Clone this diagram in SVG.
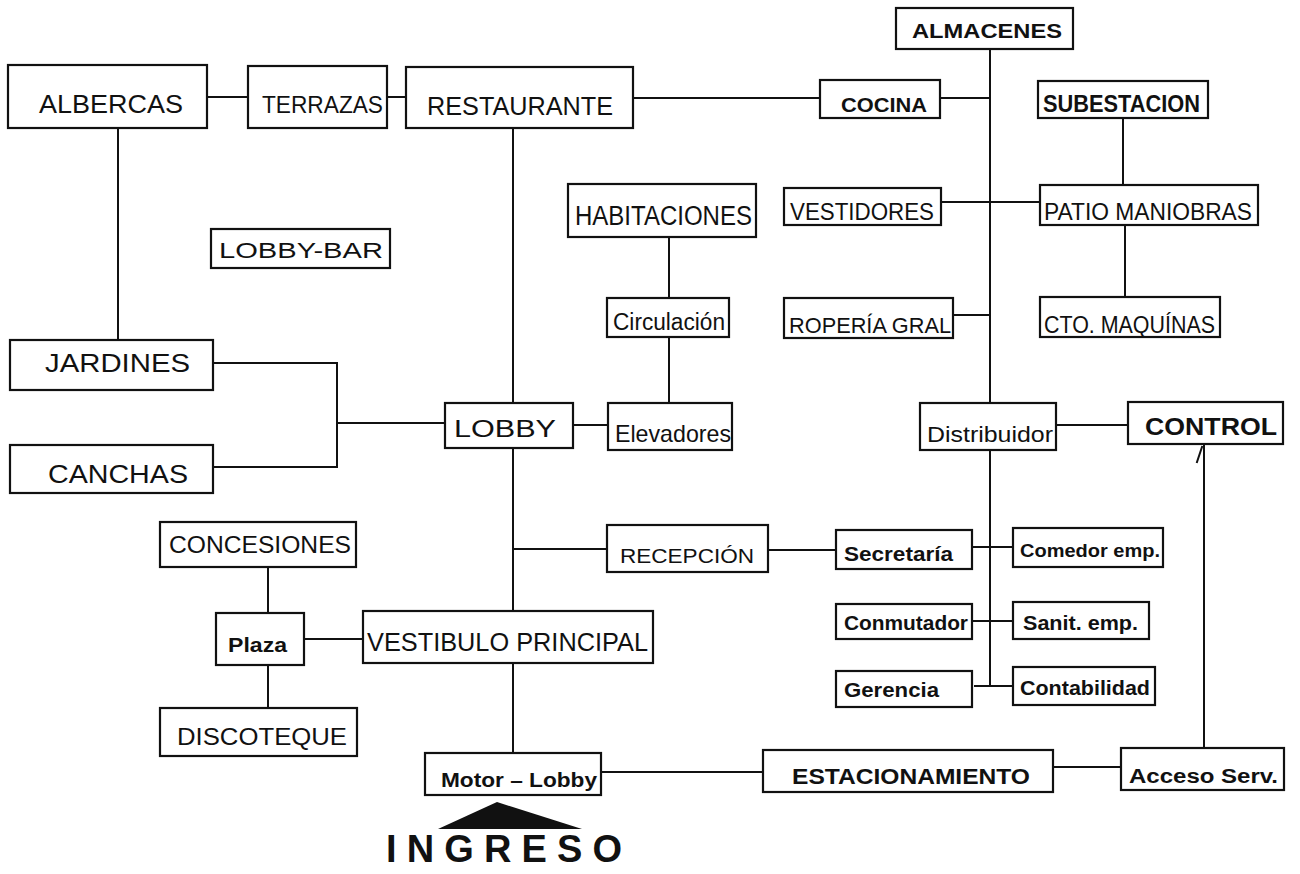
<svg xmlns="http://www.w3.org/2000/svg" width="1300" height="874" viewBox="0 0 1300 874">
<style>
.box{fill:#fff;stroke:#111;stroke-width:2.2}
.t{font-family:"Liberation Sans",Arial,sans-serif;fill:#111}
.b{font-weight:bold}
#connectors line{stroke:#111;stroke-width:2;stroke-linecap:square}
</style>
<rect width="1300" height="874" fill="#fff"/>
<g id="connectors">
<line x1="207" y1="97" x2="248" y2="97"/>
<line x1="387" y1="97" x2="406" y2="97"/>
<line x1="633" y1="98" x2="820" y2="98"/>
<line x1="940" y1="98" x2="990" y2="98"/>
<line x1="990" y1="49" x2="990" y2="403"/>
<line x1="1123" y1="118" x2="1123" y2="185"/>
<line x1="1125" y1="225" x2="1125" y2="297"/>
<line x1="941" y1="202" x2="1040" y2="202"/>
<line x1="953" y1="315" x2="990" y2="315"/>
<line x1="669" y1="237" x2="669" y2="298"/>
<line x1="669" y1="337" x2="669" y2="403"/>
<line x1="573" y1="425" x2="608" y2="425"/>
<line x1="513" y1="128" x2="513" y2="403"/>
<line x1="513" y1="448" x2="513" y2="611"/>
<line x1="513" y1="663" x2="513" y2="753"/>
<line x1="118" y1="128" x2="118" y2="340"/>
<line x1="213" y1="363" x2="337" y2="363"/>
<line x1="213" y1="467" x2="337" y2="467"/>
<line x1="337" y1="363" x2="337" y2="467"/>
<line x1="337" y1="423" x2="445" y2="423"/>
<line x1="513" y1="549" x2="607" y2="549"/>
<line x1="768" y1="550" x2="836" y2="550"/>
<line x1="972" y1="547" x2="1013" y2="547"/>
<line x1="990" y1="450" x2="990" y2="686"/>
<line x1="972" y1="621" x2="1013" y2="621"/>
<line x1="975" y1="686" x2="1013" y2="686"/>
<line x1="1056" y1="425" x2="1128" y2="425"/>
<line x1="1204" y1="444" x2="1204" y2="748"/>
<line x1="1197" y1="462" x2="1202" y2="447"/>
<line x1="304" y1="639" x2="363" y2="639"/>
<line x1="268" y1="567" x2="268" y2="613"/>
<line x1="268" y1="665" x2="268" y2="708"/>
<line x1="601" y1="772" x2="763" y2="772"/>
<line x1="1053" y1="767" x2="1121" y2="767"/>
</g>
<g id="albercas"><rect class="box" x="8" y="65" width="199" height="63"/><text class="t" x="39" y="113" font-size="25" textLength="144" lengthAdjust="spacingAndGlyphs">ALBERCAS</text></g>
<g id="terrazas"><rect class="box" x="248" y="66" width="139" height="62"/><text class="t" x="262" y="113" font-size="23" textLength="121" lengthAdjust="spacingAndGlyphs">TERRAZAS</text></g>
<g id="restaurante"><rect class="box" x="406" y="67" width="227" height="61"/><text class="t" x="427" y="115" font-size="25" textLength="186" lengthAdjust="spacingAndGlyphs">RESTAURANTE</text></g>
<g id="cocina"><rect class="box" x="820" y="80" width="120" height="38"/><text class="t b" x="841" y="112" font-size="21" textLength="86" lengthAdjust="spacingAndGlyphs">COCINA</text></g>
<g id="almacenes"><rect class="box" x="896" y="8" width="177" height="41"/><text class="t b" x="912" y="38" font-size="21" textLength="150" lengthAdjust="spacingAndGlyphs">ALMACENES</text></g>
<g id="subestacion"><rect class="box" x="1038" y="81" width="170" height="37"/><text class="t b" x="1043" y="112" font-size="23" textLength="157" lengthAdjust="spacingAndGlyphs">SUBESTACION</text></g>
<g id="habitaciones"><rect class="box" x="568" y="184" width="188" height="53"/><text class="t" x="575" y="225" font-size="27" textLength="177" lengthAdjust="spacingAndGlyphs">HABITACIONES</text></g>
<g id="vestidores"><rect class="box" x="784" y="188" width="157" height="37"/><text class="t" x="790" y="220" font-size="23" textLength="144" lengthAdjust="spacingAndGlyphs">VESTIDORES</text></g>
<g id="patio-maniobras"><rect class="box" x="1040" y="185" width="218" height="40"/><text class="t" x="1044" y="220" font-size="23" textLength="208" lengthAdjust="spacingAndGlyphs">PATIO MANIOBRAS</text></g>
<g id="lobby-bar"><rect class="box" x="211" y="229" width="179" height="39"/><text class="t" x="219" y="258" font-size="22" textLength="164" lengthAdjust="spacingAndGlyphs">LOBBY-BAR</text></g>
<g id="circulacion"><rect class="box" x="607" y="298" width="122" height="39"/><text class="t" x="613" y="330" font-size="23" textLength="112" lengthAdjust="spacingAndGlyphs">Circulación</text></g>
<g id="roperia"><rect class="box" x="784" y="298" width="169" height="40"/><text class="t" x="789" y="333" font-size="22" textLength="162" lengthAdjust="spacingAndGlyphs">ROPERÍA GRAL</text></g>
<g id="cto-maquinas"><rect class="box" x="1040" y="297" width="180" height="40"/><text class="t" x="1044" y="333" font-size="24" textLength="171" lengthAdjust="spacingAndGlyphs">CTO. MAQUÍNAS</text></g>
<g id="jardines"><rect class="box" x="10" y="340" width="203" height="50"/><text class="t" x="45" y="372" font-size="25" textLength="145" lengthAdjust="spacingAndGlyphs">JARDINES</text></g>
<g id="canchas"><rect class="box" x="10" y="445" width="203" height="48"/><text class="t" x="48" y="483" font-size="25" textLength="140" lengthAdjust="spacingAndGlyphs">CANCHAS</text></g>
<g id="lobby"><rect class="box" x="445" y="403" width="128" height="45"/><text class="t" x="454" y="437" font-size="24" textLength="102" lengthAdjust="spacingAndGlyphs">LOBBY</text></g>
<g id="elevadores"><rect class="box" x="608" y="403" width="124" height="47"/><text class="t" x="615" y="442" font-size="24" textLength="116" lengthAdjust="spacingAndGlyphs">Elevadores</text></g>
<g id="distribuidor"><rect class="box" x="920" y="403" width="136" height="47"/><text class="t" x="927" y="442" font-size="22" textLength="126" lengthAdjust="spacingAndGlyphs">Distribuidor</text></g>
<g id="control"><rect class="box" x="1128" y="402" width="155" height="42"/><text class="t b" x="1145" y="435" font-size="23" textLength="132" lengthAdjust="spacingAndGlyphs">CONTROL</text></g>
<g id="recepcion"><rect class="box" x="607" y="525" width="161" height="47"/><text class="t" x="620" y="563" font-size="21" textLength="134" lengthAdjust="spacingAndGlyphs">RECEPCIÓN</text></g>
<g id="secretaria"><rect class="box" x="836" y="530" width="136" height="39"/><text class="t b" x="844" y="561" font-size="21" textLength="109" lengthAdjust="spacingAndGlyphs">Secretaría</text></g>
<g id="comedor"><rect class="box" x="1013" y="528" width="150" height="39"/><text class="t b" x="1020" y="557" font-size="19" textLength="140" lengthAdjust="spacingAndGlyphs">Comedor emp.</text></g>
<g id="conmutador"><rect class="box" x="836" y="604" width="136" height="35"/><text class="t b" x="844" y="630" font-size="21" textLength="124" lengthAdjust="spacingAndGlyphs">Conmutador</text></g>
<g id="sanit"><rect class="box" x="1013" y="602" width="136" height="37"/><text class="t b" x="1023" y="630" font-size="21" textLength="115" lengthAdjust="spacingAndGlyphs">Sanit. emp.</text></g>
<g id="gerencia"><rect class="box" x="836" y="671" width="136" height="36"/><text class="t b" x="844" y="697" font-size="21" textLength="95" lengthAdjust="spacingAndGlyphs">Gerencia</text></g>
<g id="contabilidad"><rect class="box" x="1013" y="667" width="142" height="38"/><text class="t b" x="1020" y="695" font-size="21" textLength="130" lengthAdjust="spacingAndGlyphs">Contabilidad</text></g>
<g id="concesiones"><rect class="box" x="160" y="522" width="196" height="45"/><text class="t" x="169" y="553" font-size="24" textLength="182" lengthAdjust="spacingAndGlyphs">CONCESIONES</text></g>
<g id="plaza"><rect class="box" x="216" y="613" width="88" height="52"/><text class="t b" x="228" y="652" font-size="21" textLength="59" lengthAdjust="spacingAndGlyphs">Plaza</text></g>
<g id="vestibulo"><rect class="box" x="363" y="611" width="290" height="52"/><text class="t" x="367" y="651" font-size="25" textLength="281" lengthAdjust="spacingAndGlyphs">VESTIBULO PRINCIPAL</text></g>
<g id="discoteque"><rect class="box" x="160" y="708" width="197" height="48"/><text class="t" x="177" y="745" font-size="24" textLength="170" lengthAdjust="spacingAndGlyphs">DISCOTEQUE</text></g>
<g id="motor-lobby"><rect class="box" x="425" y="753" width="176" height="42"/><text class="t b" x="441" y="787" font-size="20" textLength="156" lengthAdjust="spacingAndGlyphs">Motor – Lobby</text></g>
<g id="estacionamiento"><rect class="box" x="763" y="750" width="290" height="42"/><text class="t b" x="792" y="784" font-size="22" textLength="238" lengthAdjust="spacingAndGlyphs">ESTACIONAMIENTO</text></g>
<g id="acceso-serv"><rect class="box" x="1121" y="748" width="163" height="42"/><text class="t b" x="1129" y="783" font-size="20" textLength="149" lengthAdjust="spacingAndGlyphs">Acceso Serv.</text></g>
<g id="ingreso">
<polygon points="438,829 497,802 582,829" fill="#111"/>
<text class="t b" x="386" y="862" font-size="38" textLength="236" lengthAdjust="spacing">INGRESO</text>
</g>
</svg>
